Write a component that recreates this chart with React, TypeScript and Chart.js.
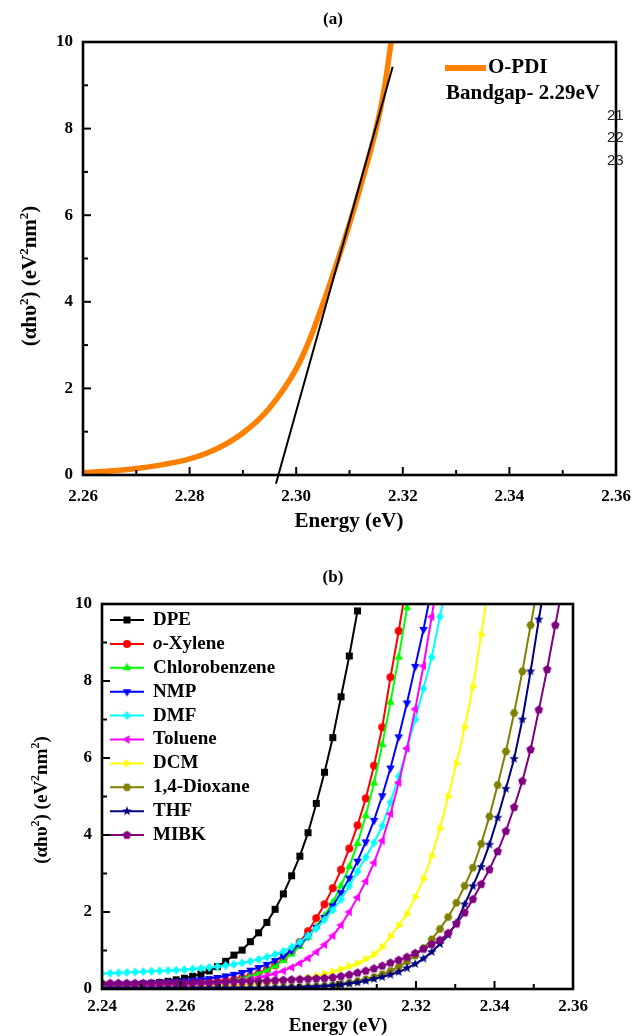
import React, { useEffect, useRef } from "react";
import { Chart, registerables } from "chart.js";

Chart.register(...registerables);

const SERIF = '"Liberation Serif", "Times New Roman", serif';

// ---------------- Panel (a) ----------------
const energyA = [2.26, 2.265, 2.27, 2.275, 2.28, 2.285, 2.29, 2.295, 2.3, 2.3025, 2.305, 2.3075, 2.31, 2.3125, 2.315, 2.3165, 2.3178];
const absorbA = [0.05, 0.09, 0.15, 0.24, 0.37, 0.6, 0.97, 1.55, 2.45, 3.12, 3.95, 4.85, 5.8, 6.85, 8.0, 8.9, 10.0];
const tangentEnergy = [2.2962, 2.3181];
const tangentValue = [-0.2, 9.43];
const seriesLabelA = "O-PDI";
const bandgapText = "Bandgap- 2.29eV";
const strayNumbers = ["21", "22", "23"];
const xTicksA = [2.26, 2.27, 2.28, 2.29, 2.3, 2.31, 2.32, 2.33, 2.34, 2.35, 2.36];
const xLabelsA = [2.26, 2.28, 2.3, 2.32, 2.34, 2.36];
const yTicks = [0, 1, 2, 3, 4, 5, 6, 7, 8, 9, 10];
const yLabels = [0, 2, 4, 6, 8, 10];

// ---------------- Panel (b) ----------------
const xTicksB = [2.24, 2.25, 2.26, 2.27, 2.28, 2.29, 2.3, 2.31, 2.32, 2.33, 2.34, 2.35, 2.36];
const xLabelsB = [2.24, 2.26, 2.28, 2.3, 2.32, 2.34, 2.36];
const energyB = [
  2.24, 2.2421, 2.2442, 2.2463, 2.2484, 2.2505, 2.2526, 2.2547, 2.2568, 2.2589,
  2.261, 2.2631, 2.2652, 2.2673, 2.2694, 2.2715, 2.2736, 2.2757, 2.2778, 2.2799,
  2.282, 2.2841, 2.2862, 2.2883, 2.2904, 2.2925, 2.2946, 2.2967, 2.2988, 2.3009,
  2.303, 2.3051, 2.3072, 2.3093, 2.3114, 2.3135, 2.3156, 2.3177, 2.3198, 2.3219,
  2.324, 2.3261, 2.3282, 2.3303, 2.3324, 2.3345, 2.3366, 2.3387, 2.3408, 2.3429,
  2.345, 2.3471, 2.3492, 2.3513, 2.3534, 2.3555, 2.3576,
];
const solvents = ["DPE", "o-Xylene", "Chlorobenzene", "NMP", "DMF", "Toluene", "DCM", "1,4-Dioxane", "THF", "MIBK"];
const colors = ["#000000", "#ff0000", "#00ff00", "#0000ff", "#00ffff", "#ff00ff", "#ffff00", "#808000", "#000080", "#800080"];
const shapes = ["square", "circle", "up", "down", "diamond", "left", "right", "hexagon", "star", "pentagon"];

const dpe = [0.06, 0.07, 0.08, 0.1, 0.11, 0.13, 0.15, 0.17, 0.2, 0.24, 0.28, 0.33, 0.39, 0.47, 0.58, 0.72, 0.88, 1.01, 1.23, 1.46, 1.73, 2.07, 2.47, 2.94, 3.45, 4.06, 4.82, 5.63, 6.53, 7.59, 8.65, 9.82];
const oXylene = [0.06, 0.07, 0.07, 0.07, 0.08, 0.08, 0.09, 0.09, 0.1, 0.11, 0.12, 0.13, 0.15, 0.17, 0.19, 0.22, 0.25, 0.29, 0.34, 0.41, 0.5, 0.62, 0.78, 0.98, 1.22, 1.5, 1.84, 2.2, 2.62, 3.1, 3.65, 4.25, 4.95, 5.8, 6.8, 8.1, 9.3, 10.6];
const chlorobenzene = [0.05, 0.05, 0.06, 0.06, 0.06, 0.07, 0.07, 0.08, 0.08, 0.09, 0.1, 0.11, 0.12, 0.14, 0.16, 0.19, 0.23, 0.27, 0.33, 0.4, 0.49, 0.6, 0.74, 0.91, 1.11, 1.35, 1.62, 1.9, 2.25, 2.68, 3.18, 3.78, 4.5, 5.35, 6.35, 7.45, 8.62, 9.9, 11.2];
const nmp = [0.12, 0.12, 0.13, 0.13, 0.14, 0.15, 0.16, 0.17, 0.18, 0.19, 0.21, 0.23, 0.25, 0.27, 0.3, 0.34, 0.38, 0.43, 0.49, 0.56, 0.64, 0.74, 0.86, 1.0, 1.17, 1.37, 1.6, 1.86, 2.16, 2.5, 2.88, 3.32, 3.82, 4.38, 5.02, 5.74, 6.55, 7.43, 8.38, 9.34, 10.4];
const dmf = [0.4, 0.41, 0.42, 0.43, 0.44, 0.45, 0.46, 0.47, 0.48, 0.49, 0.5, 0.52, 0.54, 0.56, 0.58, 0.61, 0.64, 0.68, 0.72, 0.77, 0.83, 0.9, 0.98, 1.09, 1.22, 1.38, 1.57, 1.8, 2.05, 2.33, 2.68, 3.05, 3.42, 3.8, 4.24, 4.85, 5.52, 6.24, 7.0, 7.8, 8.62, 9.67, 10.8];
const toluene = [0.05, 0.06, 0.06, 0.06, 0.07, 0.07, 0.08, 0.08, 0.09, 0.09, 0.1, 0.11, 0.12, 0.13, 0.15, 0.17, 0.19, 0.22, 0.25, 0.29, 0.34, 0.4, 0.47, 0.56, 0.67, 0.8, 0.96, 1.15, 1.38, 1.66, 2.0, 2.38, 2.8, 3.28, 3.85, 4.55, 5.36, 6.25, 7.27, 8.39, 9.67, 11.0];
const dcm = [0.03, 0.03, 0.03, 0.04, 0.04, 0.04, 0.04, 0.05, 0.05, 0.05, 0.06, 0.06, 0.07, 0.07, 0.08, 0.09, 0.1, 0.11, 0.12, 0.14, 0.16, 0.18, 0.2, 0.23, 0.26, 0.3, 0.34, 0.39, 0.45, 0.52, 0.59, 0.67, 0.78, 0.9, 1.09, 1.37, 1.65, 1.95, 2.38, 2.86, 3.45, 4.17, 5.0, 5.86, 6.8, 7.85, 9.2, 10.6];
const dioxane = [0.02, 0.02, 0.02, 0.02, 0.02, 0.02, 0.02, 0.02, 0.02, 0.02, 0.02, 0.02, 0.02, 0.02, 0.02, 0.02, 0.02, 0.02, 0.02, 0.02, 0.03, 0.03, 0.04, 0.04, 0.05, 0.06, 0.07, 0.08, 0.1, 0.13, 0.16, 0.2, 0.25, 0.31, 0.38, 0.47, 0.58, 0.71, 0.87, 1.06, 1.29, 1.56, 1.87, 2.24, 2.68, 3.15, 3.77, 4.48, 5.3, 6.17, 7.17, 8.25, 9.45, 10.6];
const thf = [0.02, 0.02, 0.02, 0.02, 0.02, 0.02, 0.02, 0.02, 0.02, 0.02, 0.02, 0.02, 0.02, 0.02, 0.02, 0.02, 0.02, 0.02, 0.02, 0.02, 0.02, 0.03, 0.03, 0.04, 0.04, 0.05, 0.06, 0.07, 0.09, 0.11, 0.14, 0.17, 0.21, 0.26, 0.31, 0.37, 0.44, 0.54, 0.65, 0.79, 0.96, 1.17, 1.4, 1.72, 2.2, 2.67, 3.17, 3.75, 4.45, 5.2, 5.98, 7.0, 8.25, 9.6, 10.9];
const mibk = [0.15, 0.15, 0.15, 0.15, 0.15, 0.15, 0.15, 0.16, 0.16, 0.16, 0.16, 0.17, 0.17, 0.17, 0.18, 0.18, 0.19, 0.19, 0.2, 0.2, 0.21, 0.22, 0.23, 0.24, 0.25, 0.26, 0.27, 0.28, 0.3, 0.33, 0.37, 0.42, 0.47, 0.53, 0.6, 0.68, 0.75, 0.83, 0.93, 1.04, 1.16, 1.27, 1.45, 1.69, 1.98, 2.33, 2.72, 3.1, 3.57, 4.1, 4.72, 5.4, 6.22, 7.25, 8.3, 9.45, 10.6];
const seriesB = [dpe, oXylene, chlorobenzene, nmp, dmf, toluene, dcm, dioxane, thf, mibk];
const markerSizes = [7, 8, 9, 9, 9, 9, 9, 8.5, 10, 9];

// ---------------- helpers ----------------
function makeMarker(shape: string, color: string, size: number): HTMLCanvasElement {
  const S = Math.ceil(size) + 2;
  const c = document.createElement("canvas");
  c.width = S;
  c.height = S;
  const ctx = c.getContext("2d")!;
  ctx.fillStyle = color;
  ctx.translate(S / 2, S / 2);
  const r = size / 2;
  const poly = (n: number, rot: number, rad: number) => {
    ctx.beginPath();
    for (let i = 0; i < n; i++) {
      const a = rot + (i * 2 * Math.PI) / n;
      const px = rad * Math.cos(a);
      const py = rad * Math.sin(a);
      if (i === 0) ctx.moveTo(px, py);
      else ctx.lineTo(px, py);
    }
    ctx.closePath();
  };
  switch (shape) {
    case "square":
      ctx.beginPath();
      ctx.rect(-r, -r, 2 * r, 2 * r);
      break;
    case "circle":
      ctx.beginPath();
      ctx.arc(0, 0, r, 0, Math.PI * 2);
      break;
    case "up":
      poly(3, -Math.PI / 2, r * 1.1);
      break;
    case "down":
      poly(3, Math.PI / 2, r * 1.1);
      break;
    case "left":
      poly(3, Math.PI, r * 1.1);
      break;
    case "right":
      poly(3, 0, r * 1.1);
      break;
    case "diamond":
      ctx.beginPath();
      ctx.moveTo(0, -r);
      ctx.lineTo(r * 0.85, 0);
      ctx.lineTo(0, r);
      ctx.lineTo(-r * 0.85, 0);
      ctx.closePath();
      break;
    case "hexagon":
      poly(6, 0, r);
      break;
    case "pentagon":
      poly(5, -Math.PI / 2, r);
      break;
    case "star": {
      ctx.beginPath();
      for (let i = 0; i < 10; i++) {
        const a = -Math.PI / 2 + (i * Math.PI) / 5;
        const rad = i % 2 === 0 ? r : r * 0.42;
        const px = rad * Math.cos(a);
        const py = rad * Math.sin(a);
        if (i === 0) ctx.moveTo(px, py);
        else ctx.lineTo(px, py);
      }
      ctx.closePath();
      break;
    }
  }
  ctx.fill();
  return c;
}

function drawFrameAndTicks(chart: any, xTicks: number[], yT: number[]) {
  const { ctx, chartArea: a, scales } = chart;
  ctx.save();
  ctx.strokeStyle = "#000";
  ctx.lineWidth = 2;
  xTicks.forEach((v, i) => {
    const px = scales.x.getPixelForValue(v);
    const len = i % 2 === 0 ? 8 : 5;
    ctx.beginPath();
    ctx.moveTo(px, a.bottom);
    ctx.lineTo(px, a.bottom - len);
    ctx.stroke();
  });
  yT.forEach((v, i) => {
    const py = scales.y.getPixelForValue(v);
    const len = i % 2 === 0 ? 8 : 5;
    ctx.beginPath();
    ctx.moveTo(a.left, py);
    ctx.lineTo(a.left + len, py);
    ctx.stroke();
  });
  ctx.lineWidth = 2.6;
  ctx.strokeRect(a.left, a.top, a.right - a.left, a.bottom - a.top);
  ctx.restore();
}

function drawYTitle(ctx: CanvasRenderingContext2D, cx: number, cy: number, size: number) {
  const parts: [string, boolean][] = [
    ["(\u03b1h\u03c5", false],
    ["2", true],
    [") (eV", false],
    ["2", true],
    ["nm", false],
    ["2", true],
    [")", false],
  ];
  const main = `bold ${size}px ${SERIF}`;
  const sup = `bold ${Math.round(size * 0.62)}px ${SERIF}`;
  ctx.save();
  ctx.translate(cx, cy);
  ctx.rotate(-Math.PI / 2);
  ctx.fillStyle = "#000";
  ctx.textBaseline = "alphabetic";
  let total = 0;
  for (const [t, s] of parts) {
    ctx.font = s ? sup : main;
    total += ctx.measureText(t).width;
  }
  let x = -total / 2;
  for (const [t, s] of parts) {
    ctx.font = s ? sup : main;
    ctx.fillText(t, x, s ? size * 0.35 - size * 0.42 : size * 0.35);
    x += ctx.measureText(t).width;
  }
  ctx.restore();
}

function centerText(ctx: CanvasRenderingContext2D, text: string, x: number, y: number, font: string) {
  ctx.save();
  ctx.font = font;
  ctx.fillStyle = "#000";
  ctx.textAlign = "center";
  ctx.textBaseline = "middle";
  ctx.fillText(text, x, y);
  ctx.restore();
}

const tickFont = { family: SERIF, size: 17, weight: "bold" as const };

function baseScales(xMin: number, xMax: number, xLabels: number[], yWidth: number, xHeight: number, xPad: number) {
  return {
    x: {
      type: "linear" as const,
      min: xMin,
      max: xMax,
      afterBuildTicks: (s: any) => {
        s.ticks = xLabels.map((v) => ({ value: v }));
      },
      ticks: {
        callback: (v: any) => Number(v).toFixed(2),
        font: tickFont,
        color: "#000",
        padding: xPad,
        maxRotation: 0,
        autoSkip: false,
      },
      grid: { display: false, drawTicks: false },
      border: { display: false },
      afterFit: (s: any) => {
        s.height = xHeight;
        s.paddingLeft = 0;
        s.paddingRight = 0;
      },
    },
    y: {
      type: "linear" as const,
      min: 0,
      max: 10,
      afterBuildTicks: (s: any) => {
        s.ticks = yLabels.map((v) => ({ value: v }));
      },
      ticks: { font: tickFont, color: "#000", padding: 10 },
      grid: { display: false, drawTicks: false },
      border: { display: false },
      afterFit: (s: any) => {
        s.width = yWidth;
        s.paddingTop = 0;
        s.paddingBottom = 0;
      },
    },
  };
}

export default function App() {
  const refA = useRef<HTMLCanvasElement>(null);
  const refB = useRef<HTMLCanvasElement>(null);

  useEffect(() => {
    const chartA = new Chart(refA.current!, {
      type: "line",
      data: {
        datasets: [
          {
            label: seriesLabelA,
            data: energyA.map((x, i) => ({ x, y: absorbA[i] })),
            borderColor: "#ff8000",
            borderWidth: 5.5,
            pointRadius: 0,
            cubicInterpolationMode: "monotone",
            order: 1,
          },
          {
            label: "tangent",
            data: tangentEnergy.map((x, i) => ({ x, y: tangentValue[i] })),
            borderColor: "#000",
            borderWidth: 2,
            pointRadius: 0,
            clip: false as any,
            order: 0,
          },
        ],
      },
      options: {
        responsive: false,
        animation: false,
        devicePixelRatio: 1,
        events: [],
        layout: { padding: { top: 42, right: 20, bottom: 0, left: 0 } },
        plugins: { legend: { display: false }, title: { display: false }, tooltip: { enabled: false } },
        scales: baseScales(2.26, 2.36, xLabelsA, 83, 70, 11) as any,
      },
      plugins: [
        {
          id: "decorA",
          afterDraw(chart: any) {
            const ctx = chart.ctx as CanvasRenderingContext2D;
            drawFrameAndTicks(chart, xTicksA, yTicks);
            centerText(ctx, "(a)", 333, 20, `bold 17px ${SERIF}`);
            centerText(ctx, "Energy (eV)", 349, 522, `bold 21px ${SERIF}`);
            drawYTitle(ctx, 29, 276, 21);
            // legend
            ctx.save();
            ctx.strokeStyle = "#ff8000";
            ctx.lineWidth = 6;
            ctx.beginPath();
            ctx.moveTo(445, 68);
            ctx.lineTo(486, 68);
            ctx.stroke();
            ctx.fillStyle = "#000";
            ctx.textBaseline = "middle";
            ctx.textAlign = "left";
            ctx.font = `bold 21px ${SERIF}`;
            ctx.fillText(seriesLabelA, 488, 68);
            ctx.fillText(bandgapText, 446, 94);
            ctx.font = `15px "Liberation Sans", Arial, sans-serif`;
            ctx.fillStyle = "#222";
            strayNumbers.forEach((t, i) => ctx.fillText(t, 607, [116, 138, 161][i]));
            ctx.restore();
          },
        },
      ],
    } as any);

    const markers = shapes.map((s, i) => makeMarker(s, colors[i], markerSizes[i]));

    const chartB = new Chart(refB.current!, {
      type: "line",
      data: {
        datasets: seriesB.map((vals, i) => ({
          label: solvents[i],
          data: vals.map((y, k) => ({ x: energyB[k], y })),
          borderColor: colors[i],
          backgroundColor: colors[i],
          borderWidth: 2,
          pointStyle: markers[i],
          pointRadius: 4,
          tension: 0,
          order: -i,
        })),
      },
      options: {
        responsive: false,
        animation: false,
        devicePixelRatio: 1,
        events: [],
        layout: { padding: { top: 59, right: 63, bottom: 0, left: 0 } },
        plugins: { legend: { display: false }, title: { display: false }, tooltip: { enabled: false } },
        scales: baseScales(2.24, 2.36, xLabelsB, 102, 47, 7) as any,
      },
      plugins: [
        {
          id: "decorB",
          afterDraw(chart: any) {
            const ctx = chart.ctx as CanvasRenderingContext2D;
            drawFrameAndTicks(chart, xTicksB, yTicks);
            centerText(ctx, "(b)", 333, 33, `bold 17px ${SERIF}`);
            centerText(ctx, "Energy (eV)", 338, 481, `bold 19px ${SERIF}`);
            drawYTitle(ctx, 40, 255, 19);
            // legend
            ctx.save();
            solvents.forEach((name, i) => {
              const y = 75 + i * 23.9;
              ctx.strokeStyle = colors[i];
              ctx.lineWidth = 2;
              ctx.beginPath();
              ctx.moveTo(110, y);
              ctx.lineTo(144, y);
              ctx.stroke();
              const m = markers[i];
              ctx.drawImage(m, 127 - m.width / 2, y - m.height / 2);
              ctx.fillStyle = "#000";
              ctx.textBaseline = "middle";
              ctx.textAlign = "left";
              if (name === "o-Xylene") {
                ctx.font = `italic bold 19px ${SERIF}`;
                ctx.fillText("o", 153, y);
                const w = ctx.measureText("o").width;
                ctx.font = `bold 19px ${SERIF}`;
                ctx.fillText("-Xylene", 153 + w, y);
              } else {
                ctx.font = `bold 19px ${SERIF}`;
                ctx.fillText(name, 153, y);
              }
            });
            ctx.restore();
          },
        },
      ],
    } as any);

    return () => {
      chartA.destroy();
      chartB.destroy();
    };
  }, []);

  return (
    <div style={{ position: "absolute", left: 0, top: 0, width: 636, height: 1036, background: "#fff" }}>
      <canvas ref={refA} width={636} height={545} style={{ position: "absolute", left: 0, top: 0, width: 636, height: 545 }} />
      <canvas ref={refB} width={636} height={491} style={{ position: "absolute", left: 0, top: 545, width: 636, height: 491 }} />
    </div>
  );
}
